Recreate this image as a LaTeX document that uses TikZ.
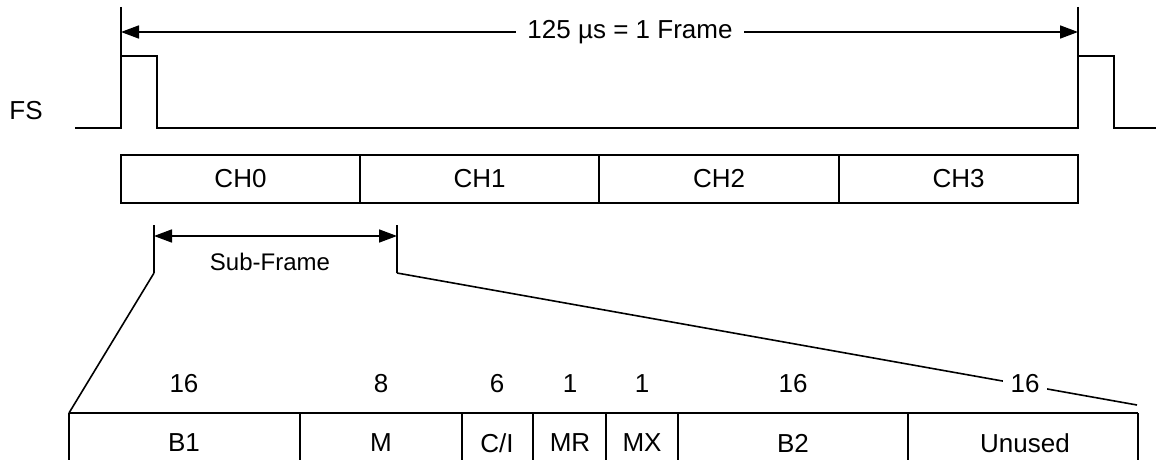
\documentclass[tikz,border=0pt]{standalone}
\usepackage{fontspec}
\setmainfont{Liberation Sans}
\usetikzlibrary{arrows.meta}

\tikzset{
  sig/.style={line width=0.8pt},
  dimarrow/.style={line width=0.8pt, {Triangle[length=9pt,width=6.5pt]}-{Triangle[length=9pt,width=6.5pt]}},
  lbl/.style={font=\fontsize{13}{15}\selectfont, inner sep=1pt},
  bits/.style={lbl, fill=white, inner xsep=4pt},
}

\begin{document}
\begin{tikzpicture}[x=0.5pt, y=-0.5pt]
    \useasboundingbox (0,0) rectangle (1156,460);

    % frame length
    \coordinate (fl) at (121,32);
    \coordinate (fr) at (1078,32);
    \draw[sig] (121,7) -- (121,128);
    \draw[sig] (1078,7) -- (1078,128);
    \draw[dimarrow] (fl) -- (fr);
    \node[lbl, fill=white, inner xsep=5.5pt] (frame) at (630,32) {125 µs = 1 Frame};

    % FS signal
    \node[lbl] (fs) at (26,111) {FS};
    \draw[sig] (75,128) -- (121,128) -- (121,56) -- (157,56) -- (157,128)
        -- (1078,128) -- (1078,56) -- (1114,56) -- (1114,128) -- (1160,128);

    % channels
    \foreach \i/\xa/\xb in {0/121/360, 1/360/599, 2/599/839, 3/839/1078} {
        \draw[sig] (\xa,155) rectangle (\xb,203);
        \node[lbl] (ch\i) at ({(\xa+\xb)/2},179) {CH\i};
    }

    % sub-frame
    \coordinate (sl) at (154,236);
    \coordinate (sr) at (397,236);
    \draw[sig] (154,225) -- (154,273) coordinate (slb);
    \draw[sig] (397,225) -- (397,273) coordinate (srb);
    \draw[dimarrow] (sl) -- (sr);
    \node[lbl, font=\fontsize{12}{14}\selectfont] (sub) at (270,262) {Sub-Frame};

    % fields of the sub-frame
    \coordinate (fdl) at (69,413);
    \coordinate (fdr) at (1137,405);
    \draw[sig] (slb) -- (fdl);
    \draw[sig] (srb) -- (fdr);
    \draw[sig] (69,413) -- (1138,413);
    \foreach \x in {69,300,462,533,606,678,908,1138}
        \draw[sig] (\x,413) -- (\x,464);

    \foreach \n/\xc/\txt/\nb in {b1/184/B1/16, m/381/M/8, ci/497/C\slash I/6,
        mr/570/MR/1, mx/642/MX/1, b2/793/B2/16, un/1025/Unused/16} {
        \node[lbl] (\n) at (\xc,443) {\txt};
        \node[bits] (\n bits) at (\xc,384) {\nb};
    }
\end{tikzpicture}
\end{document}
